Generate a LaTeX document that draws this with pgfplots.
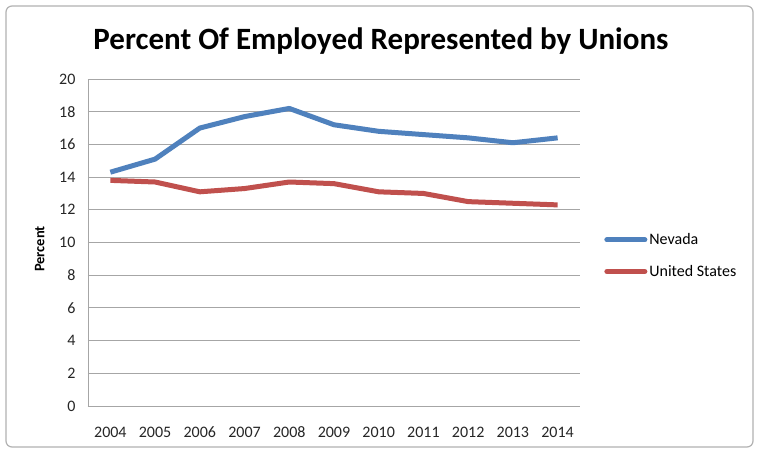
\documentclass[border=0pt]{standalone}
\usepackage{pgfplots}
\pgfplotsset{compat=1.18}
\usepackage{fontspec}
\setmainfont{Carlito}
\definecolor{nvblue}{HTML}{4F81BD}
\definecolor{usred}{HTML}{C0504D}
\definecolor{gridgray}{HTML}{A6A6A6}
\begin{document}
\begin{tikzpicture}
\useasboundingbox (0pt,0pt) rectangle (760pt,453pt);
\fill[white] (0pt,0pt) rectangle (760pt,453pt);
\draw[gray!60, line width=1.2pt, rounded corners=6pt] (6pt,6pt) rectangle (753pt,447pt);
\node[font=\bfseries\fontsize{31}{34}\selectfont, anchor=center] at (381pt,412pt) {Percent Of Employed Represented by Unions};
\begin{axis}[
  at={(88pt,47pt)}, anchor=south west,
  scale only axis, width=492pt, height=327pt,
  xmin=2003.5, xmax=2014.5, ymin=0, ymax=20,
  xtick={2004,...,2014}, ytick={0,2,...,20},
  xticklabel style={/pgf/number format/1000 sep={}},
  /pgf/number format/assume math mode=true,
  tick label style={font=\fontsize{16}{18}\selectfont, text=black!85},
  major tick length=0pt,
  ymajorgrids, grid style={gridgray, line width=0.9pt},
  axis line style={gridgray, line width=0.9pt},
  axis x line*=bottom, axis y line*=left,
  separate axis lines,
  x axis line style={-}, y axis line style={-},
  ylabel={Percent}, ylabel style={font=\bfseries\fontsize{14.5}{16}\selectfont, anchor=center, at={(axis description cs:-0.098,0.48)}},
  yticklabel style={xshift=-9pt},
  xticklabel style={yshift=-17pt, text height=11pt, text depth=1pt},
  legend style={draw=none, fill=none, at={(axis description cs:1.043,0.54)}, anchor=north west,
    font=\fontsize{16}{18}\selectfont, row sep=15pt, cells={anchor=west}},
  legend image code/.code={\draw[#1, line cap=round] (0pt,0pt) -- (38pt,0pt);},
  every axis plot/.append style={line width=5pt, line join=round},
]
\addplot[nvblue] coordinates {(2004,14.3) (2005,15.1) (2006,17.0) (2007,17.7) (2008,18.2) (2009,17.2) (2010,16.8) (2011,16.6) (2012,16.4) (2013,16.1) (2014,16.4)};
\addlegendentry{Nevada}
\addplot[usred] coordinates {(2004,13.8) (2005,13.7) (2006,13.1) (2007,13.3) (2008,13.7) (2009,13.6) (2010,13.1) (2011,13.0) (2012,12.5) (2013,12.4) (2014,12.3)};
\addlegendentry{United States}
\end{axis}
\end{tikzpicture}
\end{document}
